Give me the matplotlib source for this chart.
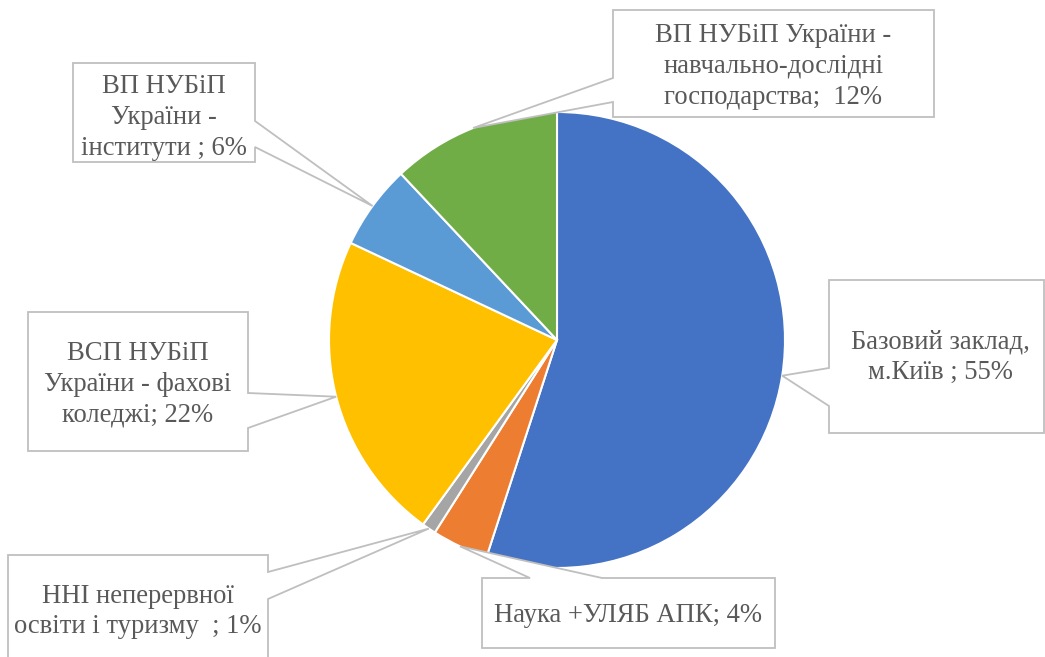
import numpy as np
import matplotlib
matplotlib.use("Agg")
import matplotlib.pyplot as plt
from matplotlib.patches import Polygon

# chart data
labels = [
    "Базовий заклад,\nм.Київ ; 55%",
    "Наука +УЛЯБ АПК; 4%",
    "ННІ неперервної\nосвіти і туризму  ; 1%",
    "ВСП НУБіП\nУкраїни - фахові\nколеджі; 22%",
    "ВП НУБіП\nУкраїни -\nінститути ; 6%",
    "ВП НУБіП України -\nнавчально-дослідні\nгосподарства;  12%",
]
values = [55, 4, 1, 22, 6, 12]
colors = ["#4472C4", "#ED7D31", "#A5A5A5", "#FFC000", "#5B9BD5", "#70AD47"]

# layout in pixels (origin top-left): box (x0, y0, x1, y1), pointer side, pointer base span
boxes = [
    ((829, 280, 1044, 433), "left", (368, 406)),
    ((482, 578, 775, 648), "top", (530, 602)),
    ((8, 555, 268, 680), "right", (572, 599)),
    ((28, 312, 248, 451), "right", (393, 428)),
    ((73, 63, 255, 162), "right", (121, 147)),
    ((613, 10, 934, 117), "left", (78, 102)),
]
text_offsets = [(4, 1), (0, 2), (0, -6), (0, 3), (0, 5), (0, 3)]

W, H = 1045, 657
cx, cy, r = 557, 340, 228

fig = plt.figure(figsize=(W / 100, H / 100), dpi=100)
ax = fig.add_axes([0, 0, 1, 1])

wedges, _ = ax.pie(values, colors=colors, startangle=90, counterclock=False,
                   center=(cx, H - cy), radius=r,
                   wedgeprops=dict(edgecolor="white", linewidth=1.5))
ax.set_xlim(0, W)
ax.set_ylim(0, H)
ax.set_aspect("equal")
ax.axis("off")


def callout(box, side, base, tip):
    x0, y0, x1, y1 = box
    a, b = base
    if side == "left":
        pts = [(x0, y0), (x1, y0), (x1, y1), (x0, y1), (x0, b), tip, (x0, a)]
    elif side == "right":
        pts = [(x0, y0), (x1, y0), (x1, a), tip, (x1, b), (x1, y1), (x0, y1)]
    else:  # top
        pts = [(x0, y0), (a, y0), tip, (b, y0), (x1, y0), (x1, y1), (x0, y1)]
    pts = [(px, H - py) for px, py in pts]
    ax.add_patch(Polygon(pts, closed=True, facecolor="white", edgecolor="#BFBFBF",
                         linewidth=1.3, zorder=3))


for w, lab, (box, side, base), (dx, dy) in zip(wedges, labels, boxes, text_offsets):
    mid = np.deg2rad((w.theta1 + w.theta2) / 2)
    tx = w.center[0] + w.r * np.cos(mid)
    ty = w.center[1] + w.r * np.sin(mid)
    callout(box, side, base, (tx, H - ty))
    bx = (box[0] + box[2]) / 2 + dx
    by = (box[1] + box[3]) / 2 + dy
    ax.text(bx, H - by, lab, ha="center", va="center", fontsize=19.2,
            family="Liberation Serif", color="#595959", linespacing=1.3, zorder=4)

fig.savefig("out.png", dpi=100)
